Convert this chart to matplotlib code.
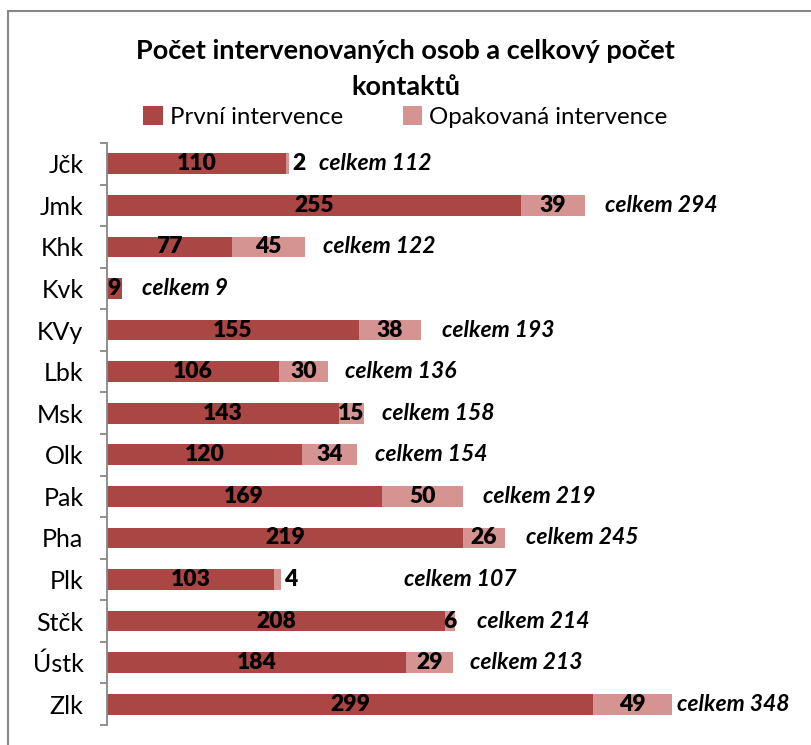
import matplotlib.pyplot as plt
from matplotlib.patches import Rectangle

plt.rcParams['font.family'] = ['Lato', 'DejaVu Sans']

kraje = ["Jčk", "Jmk", "Khk", "Kvk", "KVy", "Lbk", "Msk", "Olk",
         "Pak", "Pha", "Plk", "Stčk", "Ústk", "Zlk"]
prvni = [110, 255, 77, 9, 155, 106, 143, 120, 169, 219, 103, 208, 184, 299]
opakovana = [2, 39, 45, 0, 38, 30, 15, 34, 50, 26, 4, 6, 29, 49]
celkem = [112, 294, 122, 9, 193, 136, 158, 154, 219, 245, 107, 214, 213, 348]

# horizontal shift (px) of the "celkem" labels from the end of each bar
posun = [30, 20, 18, 20, 21, 17, 18, 18, 20, 21, 123, 22, 17, 5]

c_prvni = "#AA4643"
c_opak = "#D59392"
seda = "#878787"

fig = plt.figure(figsize=(8.11, 7.45), dpi=100)

# chart frame
fig.patches.append(Rectangle((8 / 811, -0.1), 1.2, 1.1 - 11 / 745,
                             transform=fig.transFigure, fill=False,
                             edgecolor=seda, linewidth=1.5))

ax = fig.add_axes([107 / 811, 20 / 745, 650 / 811, 582 / 745])
y = list(range(len(kraje)))

ax.barh(y, prvni, height=0.5, color=c_prvni, label="První intervence")
ax.barh(y, opakovana, left=prvni, height=0.5, color=c_opak,
        label="Opakovaná intervence")

ax.set_xlim(0, 400)
ax.set_ylim(len(kraje) - 0.5, -0.5)
ax.set_yticks(y)
ax.set_yticklabels(kraje, fontsize=18)
ax.set_yticks([i - 0.5 for i in range(len(kraje) + 1)], minor=True)
ax.tick_params(axis='y', which='major', length=0, pad=17)
ax.tick_params(axis='y', which='minor', length=5, width=1.3, color=seda)
ax.set_xticks([])
for s in ["top", "right", "bottom"]:
    ax.spines[s].set_visible(False)
ax.spines["left"].set_color(seda)
ax.spines["left"].set_linewidth(1.3)

for i in y:
    ax.text(prvni[i] / 2, i, str(prvni[i]), ha="center", va="center",
            fontsize=16.5, fontweight="heavy")
    if opakovana[i] > 0:
        if opakovana[i] < 5:
            ax.annotate(str(opakovana[i]), (celkem[i], i), xytext=(3, 0),
                        textcoords="offset pixels", ha="left", va="center",
                        fontsize=16.5, fontweight="heavy")
        else:
            ax.text(prvni[i] + opakovana[i] / 2, i, str(opakovana[i]),
                    ha="center", va="center", fontsize=16.5,
                    fontweight="heavy")
    ax.annotate("celkem %d" % celkem[i], (celkem[i], i), xytext=(posun[i], 0),
                textcoords="offset pixels", ha="left", va="center",
                fontsize=16.5, fontweight="bold", style="italic")

fig.text(0.5, 1 - 69 / 745, "Počet intervenovaných osob a celkový počet\nkontaktů",
         ha="center", va="center", fontsize=19.5, fontweight="bold",
         linespacing=1.6)

fig.legend(loc="center", bbox_to_anchor=(0.5, 1 - 117 / 745), ncol=2,
           frameon=False, fontsize=17.3, handlelength=0.8, handleheight=0.8,
           handletextpad=0.3, columnspacing=2.5)

fig.savefig("out.png", dpi=100)
